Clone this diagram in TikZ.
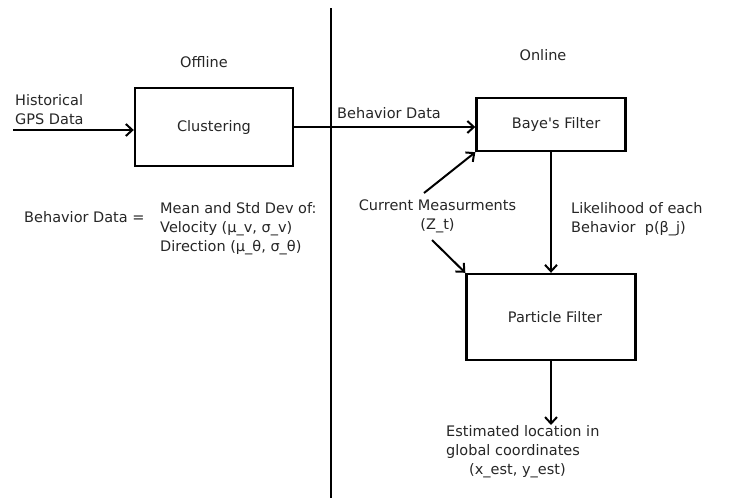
\documentclass[tikz,border=0pt]{standalone}
\usepackage{fontspec}
\setmainfont{DejaVu Sans}
\usetikzlibrary{arrows.meta}
\begin{document}
\begin{tikzpicture}[x=1pt,y=-1pt,
  box/.style={draw, line width=2.4pt, inner sep=0pt},
  arr/.style={line width=2pt, -{Straight Barb[length=6.5pt,width=12pt,line width=2pt]}},
  lbl/.style={inner sep=0pt},
  every node/.style={font=\fontsize{14.5}{19}\selectfont, text=black!85}]
\useasboundingbox (0,0) rectangle (735,498);
% divider
\coordinate (dtop) at (331,8);
\coordinate (dbot) at (331,498);
\draw[line width=2pt] (dtop) -- (dbot);
% titles
\node[lbl, anchor=north] (off) at (204,56) {Offline};
\node[lbl, anchor=north] (on) at (543,49) {Online};
% boxes
\node[box, minimum width=158, minimum height=78] (clu) at (214,127) {Clustering};
\node[box, minimum width=149, minimum height=53] (baye) at (551,124.5) {\hspace{10pt}Baye\textquotesingle s Filter};
\node[box, minimum width=169, minimum height=86] (part) at (551,317) {\hspace{8pt}Particle Filter};
% input
\node[lbl, align=left, anchor=north west] (hist) at (15,94) {Historical\\GPS Data};
\coordinate (hin) at (13,130);
\draw[arr] (hin) -- (hin -| clu.west);
% clustering to baye
\draw[arr] (clu.east) -- (clu.east -| baye.west);
\node[lbl, anchor=north west] (bd) at (337,107) {Behavior Data};
% baye to particle
\draw[arr] (baye.south) -- (part.north);
\node[lbl, align=left, anchor=north west] (lik) at (571,202) {Likelihood of each\\Behavior\ \ p(β\_j)};
% current measurements
\node[lbl, align=center, anchor=north] (cm) at (437.5,200) {Current Measurments\\(Z\_t)};
\coordinate (cm1) at (424,193);
\coordinate (cm2) at (432,240);
\draw[arr] (cm1) -- (baye.south west);
\draw[arr] (cm2) -- (part.north west);
% output
\node[lbl, align=left, anchor=north west] (est) at (446,425) {Estimated location in\\global coordinates\\\hspace{23pt}(x\_est, y\_est)};
\draw[arr] (part.south) -- (part.south |- est.north);
% behavior data definition
\node[lbl, anchor=north west] (bdeq) at (24,211) {Behavior Data =};
\node[lbl, align=left, anchor=north west] (bdef) at (160,202) {Mean and Std Dev of:\\Velocity (μ\_v, σ\_v)\\Direction (μ\_θ, σ\_θ)};
\end{tikzpicture}
\end{document}
